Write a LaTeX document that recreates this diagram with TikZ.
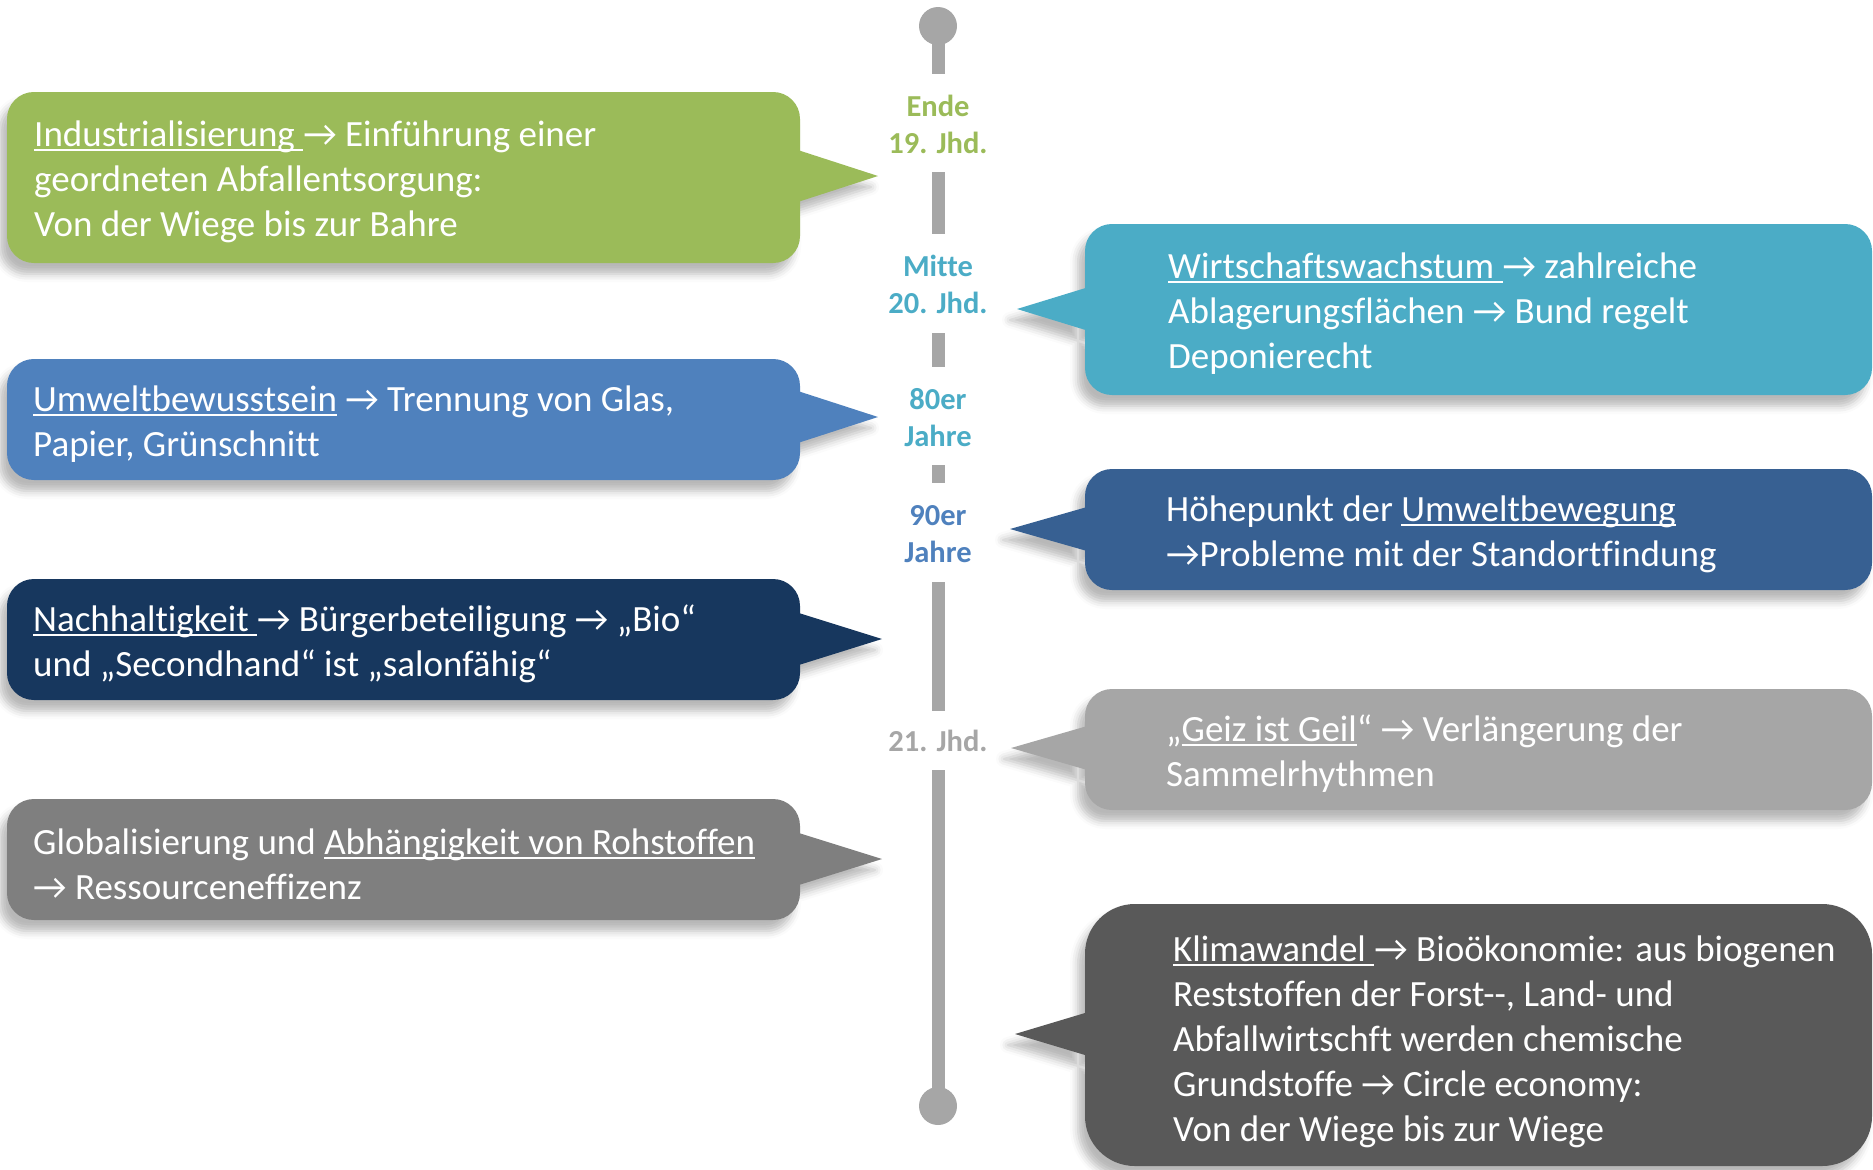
\documentclass[tikz,border=0pt]{standalone}
\usepackage{fontspec}
\setmainfont{Carlito}[Ligatures={TeX,NoCommon}]
\usetikzlibrary{shadows.blur}
\definecolor{cgreen}{HTML}{9BBB59}
\definecolor{cteal}{HTML}{4BACC6}
\definecolor{cblue}{HTML}{4F81BD}
\definecolor{cdblue}{HTML}{376092}
\definecolor{cnavy}{HTML}{17375E}
\definecolor{clgray}{HTML}{A6A6A6}
\definecolor{cgray}{HTML}{7F7F7F}
\definecolor{cdgray}{HTML}{595959}
\newcommand\ra{→}
\newsavebox\ubox
\newcommand\undl[1]{\sbox\ubox{#1}\rlap{\rule[-0.12em]{\wd\ubox}{0.055em}}\usebox\ubox}
\tikzset{
 callout/.style={blur shadow={shadow xshift=-7bp, shadow yshift=-11bp, shadow blur radius=8bp, shadow opacity=28}},
 boxtext/.style={text=white, align=left, anchor=west, inner sep=0pt, font=\fontsize{37bp}{45bp}\selectfont},
 yearlab/.style={align=center, inner sep=0pt, font=\fontsize{30.5bp}{37bp}\selectfont\bfseries},
 tline/.style={draw=clgray, line width=13bp},
 knob/.style={circle, fill=clgray, minimum size=38bp, inner sep=0pt},
}
% color, top, bottom, tip x, tip y, corner radius
\newcommand\lcall[6]{%
 \fill[#1, callout, rounded corners=#6] (7,#2) -- (800,#2) -- (800,#3) -- (7,#3) -- cycle
   [sharp corners] (770,{#5-35}) -- (#4,#5) -- (770,{#5+35}) -- cycle;}
\newcommand\rcall[6]{%
 \fill[#1, callout, rounded corners=#6] (1085,#2) -- (1872,#2) -- (1872,#3) -- (1085,#3) -- cycle
   [sharp corners] (#4,#5) -- (1115,{#5-30}) -- (1115,{#5+30}) -- cycle;}
\begin{document}
\begin{tikzpicture}[x=1bp,y=-1bp]
\useasboundingbox (0,0) rectangle (1873,1169);
% timeline
\node[knob] (top) at (938,26) {};
\node[knob] (bot) at (938,1106) {};
\coordinate (s1) at (938,74);
\coordinate (s2a) at (938,172); \coordinate (s2b) at (938,234);
\coordinate (s3a) at (938,333); \coordinate (s3b) at (938,367);
\coordinate (s4a) at (938,465); \coordinate (s4b) at (938,483);
\coordinate (s5a) at (938,582); \coordinate (s5b) at (938,711);
\coordinate (s6) at (938,770);
\draw[tline] (top.center) -- (s1);
\draw[tline] (s2a) -- (s2b);
\draw[tline] (s3a) -- (s3b);
\draw[tline] (s4a) -- (s4b);
\draw[tline] (s5a) -- (s5b);
\draw[tline] (s6) -- (bot.center);
\node[yearlab, text=cgreen] (l1) at (938,124.5) {Ende\\19. Jhd.};
\node[yearlab, text=cteal] (l2) at (938,284.5) {Mitte\\20. Jhd.};
\node[yearlab, text=cteal] (l3) at (938,418) {80er\\Jahre};
\node[yearlab, text=cblue] (l4) at (938,534) {90er\\Jahre};
\node[yearlab, text=clgray] (l5) at (938,741) {21. Jhd.};
% callouts
\lcall{cgreen}{92}{263}{878}{176}{27}
\rcall{cteal}{224}{395}{1017}{309}{27}
\lcall{cblue}{359}{480}{878}{417}{27}
\rcall{cdblue}{469}{590}{1010}{529}{27}
\lcall{cnavy}{579}{700}{882}{639}{27}
\rcall{clgray}{689}{810}{1011}{748}{27}
\lcall{cgray}{799}{920}{882}{859}{27}
\rcall{cdgray}{904}{1166}{1015}{1034}{50}
% texts
\node[boxtext] (t1) at (34,182) {\undl{Industrialisierung\ }\ra{} Einführung einer\\geordneten Abfallentsorgung:\\Von der Wiege bis zur Bahre};
\node[boxtext] (t2) at (1168,314) {\undl{Wirtschaftswachstum\ }\ra{} zahlreiche\\Ablagerungsflächen \ra{} Bund regelt\\Deponierecht};
\node[boxtext] (t3) at (33,424) {\undl{Umweltbewusstsein} \ra{} Trennung von Glas,\\Papier, Grünschnitt};
\node[boxtext] (t4) at (1166,534) {Höhepunkt der \undl{Umweltbewegung}\\\ra{}Probleme mit der Standortfindung};
\node[boxtext] (t5) at (33,644) {\undl{Nachhaltigkeit\ }\ra{} Bürgerbeteiligung \ra{} „Bio“\\und „Secondhand“ ist „salonfähig“};
\node[boxtext] (t6) at (1166,754) {„\undl{Geiz ist Geil}“ \ra{} Verlängerung der\\Sammelrhythmen};
\node[boxtext] (t7) at (33,864.5) {Globalisierung und \undl{Abhängigkeit von Rohstoffen}\\\ra{} Ressourceneffizenz};
\node[boxtext] (t8) at (1173,1042) {\undl{Klimawandel\ }\ra{} Bioökonomie: aus biogenen\\Reststoffen der Forst-{}-, Land- und\\Abfallwirtschft werden chemische\\Grundstoffe \ra{} Circle economy:\\Von der Wiege bis zur Wiege};
\end{tikzpicture}
\end{document}
